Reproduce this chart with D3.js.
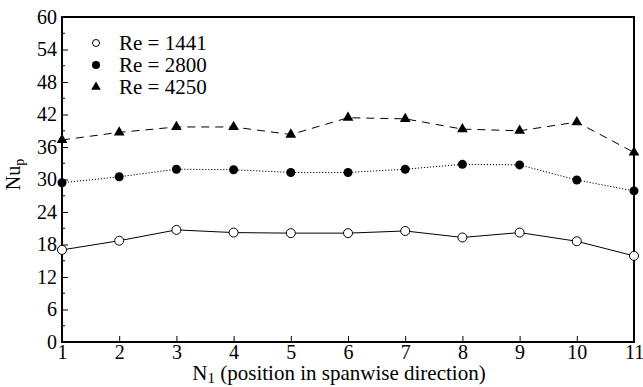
<!DOCTYPE html>
<html>
<head>
<meta charset="utf-8">
<script src="https://cdn.jsdelivr.net/npm/d3@7"></script>
<style>
  body { margin: 0; background: #fff; }
  svg text { font-family: "Liberation Serif", "Times New Roman", "DejaVu Serif", serif; fill: #000; }
</style>
</head>
<body>
<svg id="chart"></svg>
<script>
// data
var positions = [1, 2, 3, 4, 5, 6, 7, 8, 9, 10, 11];
var re1441 = [17.0, 18.7, 20.7, 20.2, 20.1, 20.1, 20.5, 19.3, 20.2, 18.6, 15.9];
var re2800 = [29.4, 30.5, 31.9, 31.8, 31.3, 31.3, 31.9, 32.8, 32.7, 29.9, 27.9];
var re4250 = [37.3, 38.7, 39.7, 39.7, 38.3, 41.4, 41.2, 39.3, 39.0, 40.6, 35.0];
var yTicks = [0, 6, 12, 18, 24, 30, 36, 42, 48, 54, 60];
var seriesNames = ["Re = 1441", "Re = 2800", "Re = 4250"];

var W = 643, H = 387;
var margin = {top: 17, right: 9, bottom: 45, left: 62};
var width = W - margin.left - margin.right,
    height = H - margin.top - margin.bottom;
var serif = '"Liberation Serif", "Times New Roman", "DejaVu Serif", serif';

var svg = d3.select("#chart")
  .attr("width", W)
  .attr("height", H)
  .append("g")
  .attr("transform", "translate(" + margin.left + "," + margin.top + ")");

var x = d3.scaleLinear().domain([1, 11]).range([0, width]);
var y = d3.scaleLinear().domain([0, 60]).range([height, 0]);

// axes: ticks point inward
var xAxis = d3.axisBottom(x).tickValues(positions).tickSize(-6).tickPadding(3).tickFormat(d3.format("d"));
var yAxis = d3.axisLeft(y).tickValues(yTicks).tickSize(-6).tickPadding(5);

var gx = svg.append("g").attr("transform", "translate(0," + height + ")").call(xAxis);
var gy = svg.append("g").call(yAxis);
[gx, gy].forEach(function(g) {
  g.attr("font-family", serif).attr("font-size", 20);
  g.select(".domain").remove();
  g.selectAll("line").attr("stroke", "#000").attr("stroke-width", 1);
});

// minor y ticks
svg.append("g").selectAll("line")
  .data(d3.range(3, 60, 6))
  .enter().append("line")
  .attr("x1", 0).attr("x2", 3)
  .attr("y1", function(d) { return y(d); })
  .attr("y2", function(d) { return y(d); })
  .attr("stroke", "#000");

// frame
svg.append("rect")
  .attr("width", width).attr("height", height)
  .attr("fill", "none").attr("stroke", "#000").attr("stroke-width", 2);

var line = d3.line()
  .x(function(d, i) { return x(positions[i]); })
  .y(function(d) { return y(d); });

svg.append("path").datum(re1441).attr("d", line)
  .attr("fill", "none").attr("stroke", "#000").attr("stroke-width", 1);
svg.append("path").datum(re2800).attr("d", line)
  .attr("fill", "none").attr("stroke", "#000").attr("stroke-width", 1).attr("stroke-dasharray", "1.2,1.8");
svg.append("path").datum(re4250).attr("d", line)
  .attr("fill", "none").attr("stroke", "#000").attr("stroke-width", 1).attr("stroke-dasharray", "8,6");

var tri = d3.symbol().type(d3.symbolTriangle).size(50);

svg.append("g").selectAll("circle")
  .data(re1441).enter().append("circle")
  .attr("cx", function(d, i) { return x(positions[i]); })
  .attr("cy", function(d) { return y(d); })
  .attr("r", 4.5).attr("fill", "#fff").attr("stroke", "#000").attr("stroke-width", 1);

svg.append("g").selectAll("circle")
  .data(re2800).enter().append("circle")
  .attr("cx", function(d, i) { return x(positions[i]); })
  .attr("cy", function(d) { return y(d); })
  .attr("r", 4.5).attr("fill", "#000");

svg.append("g").selectAll("path")
  .data(re4250).enter().append("path")
  .attr("d", tri)
  .attr("transform", function(d, i) { return "translate(" + x(positions[i]) + "," + y(d) + ")"; })
  .attr("fill", "#000");

// legend
var legend = svg.append("g").attr("transform", "translate(34,26)");
legend.append("circle").attr("cx", 0).attr("cy", 0).attr("r", 3.5)
  .attr("fill", "#fff").attr("stroke", "#000");
legend.append("circle").attr("cx", 0).attr("cy", 22).attr("r", 4).attr("fill", "#000");
legend.append("path").attr("d", d3.symbol().type(d3.symbolTriangle).size(40))
  .attr("transform", "translate(0,44)").attr("fill", "#000");
legend.selectAll("text").data(seriesNames).enter().append("text")
  .attr("x", 23)
  .attr("y", function(d, i) { return i * 22 + 7; })
  .attr("font-family", serif)
  .attr("font-size", 21)
  .text(function(d) { return d; });

// axis labels
var xl = svg.append("text")
  .attr("x", width / 2 - 9)
  .attr("y", height + 38)
  .attr("text-anchor", "middle")
  .attr("font-family", serif)
  .attr("font-size", 21);
xl.append("tspan").text("N");
xl.append("tspan").attr("dy", 3).attr("font-size", 15).text("1");
xl.append("tspan").attr("dy", -3).text(" (position in spanwise direction)");

var yl = svg.append("text")
  .attr("transform", "translate(-42," + (height / 2 - 5) + ") rotate(-90)")
  .attr("text-anchor", "middle")
  .attr("font-family", serif)
  .attr("font-size", 20);
yl.append("tspan").text("Nu");
yl.append("tspan").attr("dy", 4).attr("font-size", 14).text("p");
</script>
</body>
</html>
